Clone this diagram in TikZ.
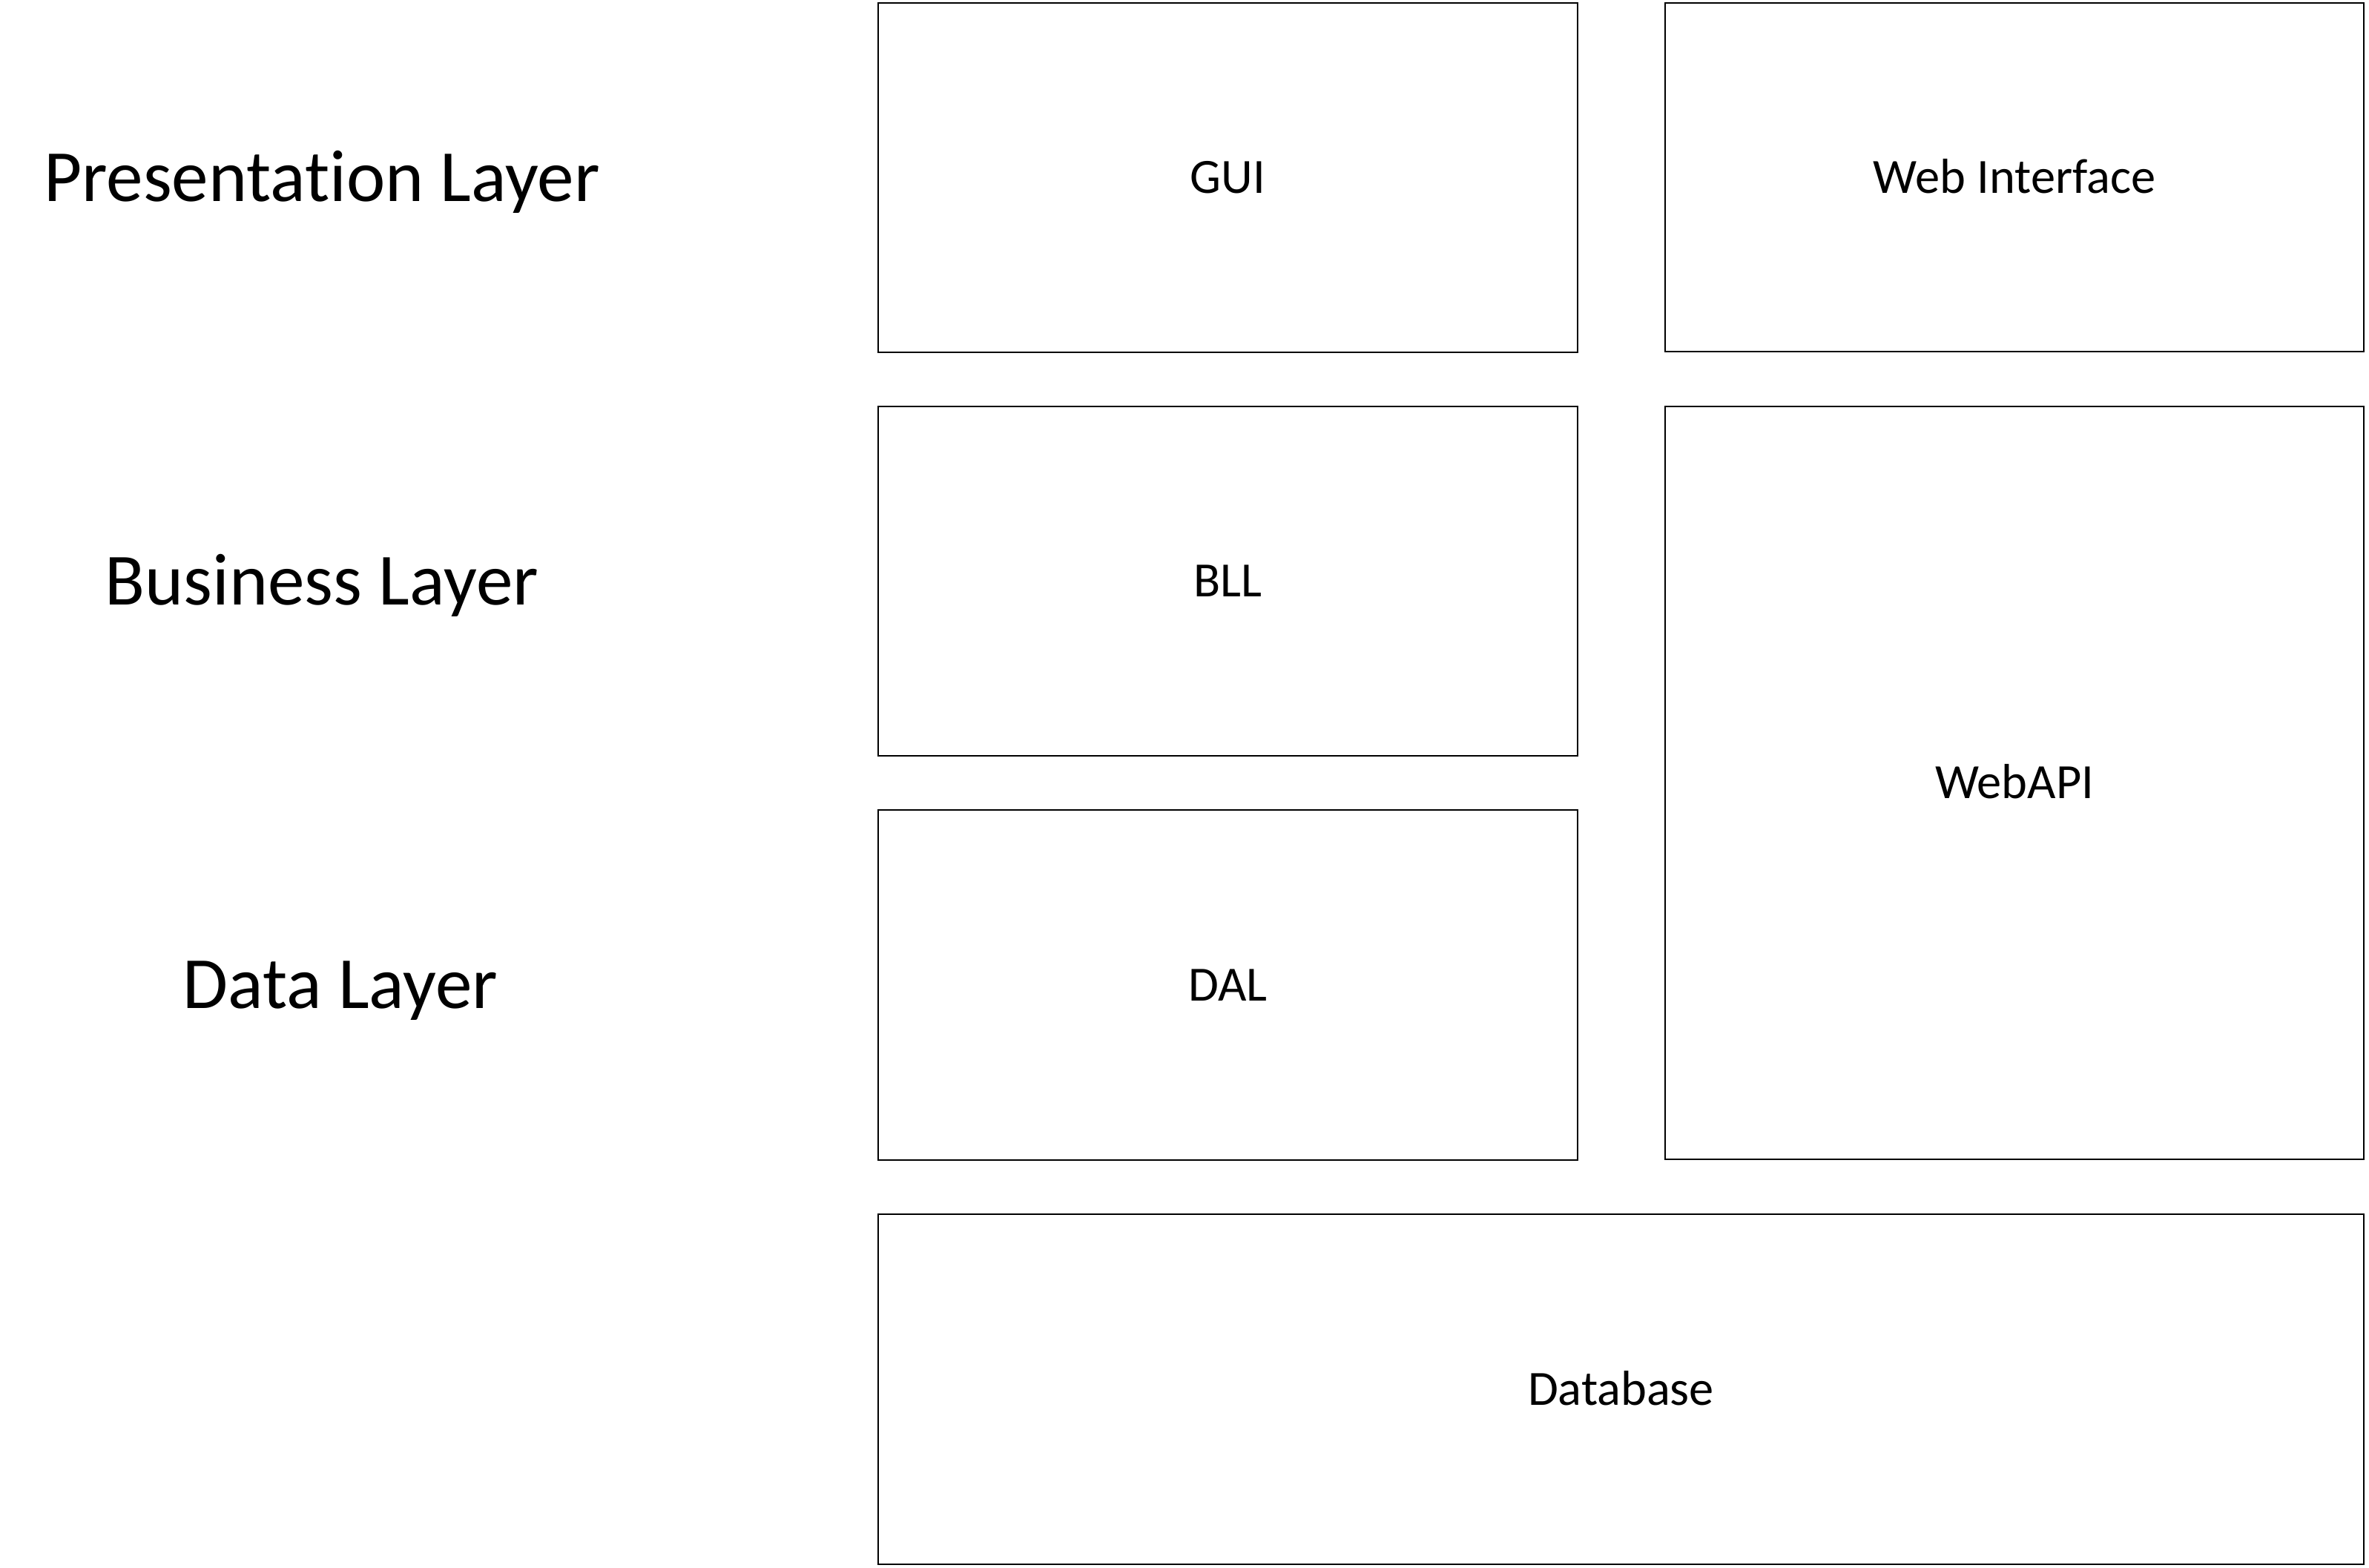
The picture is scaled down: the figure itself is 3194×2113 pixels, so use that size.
\documentclass[tikz,border=0pt]{standalone}
\usepackage{fontspec}
\setmainfont[RawFeature={-liga;-calt;-clig;-dlig}]{Carlito}
\begin{document}
\begin{tikzpicture}[x=0.25pt,y=-0.25pt,
  box/.style={draw=black,line width=0.7pt,rectangle,inner sep=0pt,
    font=\fontsize{16.6}{20}\selectfont,text height=10.7pt,text depth=0pt},
  layer/.style={inner sep=0pt,font=\fontsize{24.8}{30}\selectfont,text height=16pt,text depth=0pt}]
\useasboundingbox (0,0) rectangle (3194,2113);
\node[box,minimum width=235.75pt,minimum height=117.75pt] (gui) at (1655.5,239.5) {GUI};
\node[box,minimum width=235.5pt,minimum height=117.5pt] (web) at (2716,239) {Web Interface};
\node[box,minimum width=235.75pt,minimum height=117.75pt] (bll) at (1655.5,783.5) {BLL};
\node[box,minimum width=235.5pt,minimum height=253.75pt] (api) at (2716,1055.5) {WebAPI};
\node[box,minimum width=235.75pt,minimum height=118pt] (dal) at (1655.5,1328) {DAL};
\node[box,minimum width=500.75pt,minimum height=118pt] (db) at (2185.5,1873) {Database};
\node[layer] (pres) at (434,239) {Presentat\kern0pt ion Layer};
\node[layer] (bus) at (434,783) {Business Layer};
\node[layer] (data) at (459,1327) {Data Layer};
\end{tikzpicture}
\end{document}
